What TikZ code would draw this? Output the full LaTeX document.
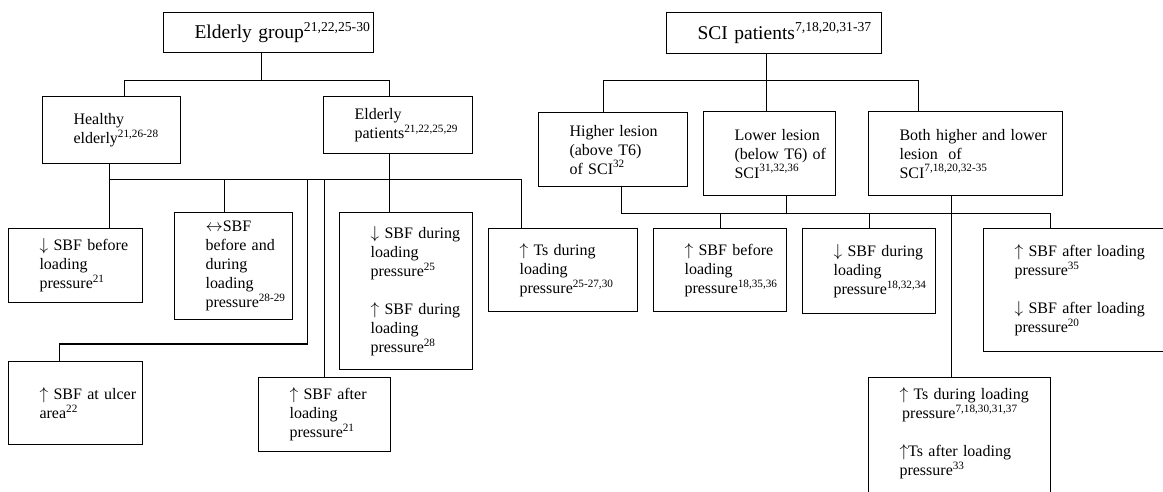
\documentclass[tikz,border=0pt]{standalone}
\usepackage{fontspec}
\setmainfont{Liberation Serif}
\usetikzlibrary{calc}
\tikzset{
  cell/.style 2 args={draw, line width=1.1pt, anchor=north west, minimum width=#1, minimum height=#2,
    text width=#1-62, inner sep=2pt, align=left, font=\fontsize{16}{19}\selectfont},
  headcell/.style 2 args={cell={#1}{#2}, font=\fontsize{19.5}{23}\selectfont},
  link/.style={line width=1.1pt}
}
\newcommand\rf[1]{\textsuperscript{#1}}
\newcommand\up{\(\uparrow\)}
\newcommand\dn{\(\downarrow\)}
\hyphenpenalty=10000
\exhyphenpenalty=10000

\begin{document}
\begin{tikzpicture}[x=1pt,y=-1pt]
		%%%%% START %%%%%
		\useasboundingbox (0,0) rectangle (1163,491);
		\clip (0,0) rectangle (1163,491);
		
		% elderly group
		\node[headcell={210}{40}] (eg) at (163,12) {Elderly~group\rf{21,22,25-30}};
		\node[cell={138}{67}] (he) at (42,96) {Healthy\\elderly\rf{21,26-28}};
		\node[cell={149}{57}] (ep) at (323,96) {Elderly\\patients\rf{21,22,25,29}};
		
		\node[cell={134}{74}] (sbfb) at (8,228) {\dn~SBF~before\\loading\\pressure\rf{21}};
		\node[cell={118}{107}] (sbfbd) at (174,212) {\(\leftrightarrow\)SBF\\before~and\\during\\loading\\pressure\rf{28-29}};
		\node[cell={133}{157}] (sbfd) at (339,212) {\dn~SBF~during\\loading\\pressure\rf{25}\\[19pt]\up~SBF~during\\loading\\pressure\rf{28}};
		\node[cell={149}{83}] (tsd) at (488,228) {\up~Ts~during\\loading\\pressure\rf{25-27,30}};
		\node[cell={134}{83}] (ulc) at (8,361) {\up~SBF~at~ulcer\\area\rf{22}};
		\node[cell={132}{74}] (sbfa) at (258,377) {\up~SBF~after\\loading\\pressure\rf{21}};
		
		\draw[link] ([xshift=-7]eg.south) -- ++(0,27) coordinate (ej);
		\draw[link] ([xshift=13]he.north) |- (ej) -| ([xshift=-8.5]ep.north);
		\draw[link] ([xshift=-2]he.south) -- ([xshift=34]sbfb.north);
		\draw[link] ([xshift=-2]he.south) ++(0,15) coordinate (hj) -| ([xshift=-41.5]tsd.north);
		\draw[link] ([xshift=-9]sbfbd.north) |- (hj);
		\draw[link] (sbfa.north) |- (hj);
		\draw[link] ([xshift=-8.5]ep.south) -- ([xshift=-16.5]sbfd.north);
		\draw[link] ([xshift=-16]ulc.north) -- ++(0,-17) -| ($(hj -| sbfa.north)+(-17,0)$);
		
		% sci patients
		\node[headcell={215}{41}] (sci) at (666,12) {SCI~patients\rf{7,18,20,31-37}};
		\node[cell={149}{74}] (hl) at (538,112) {Higher~lesion\\(above~T6)\\of~SCI\rf{32}};
		\node[cell={132}{84}] (ll) at (703,111) {Lower~lesion\\(below~T6)~of\\SCI\rf{31,32,36}};
		\node[cell={194}{84}] (bh) at (868,111) {Both~higher~and~lower\\lesion~~of\\SCI\rf{7,18,20,32-35}};
		
		\node[cell={133}{83}] (usbfb) at (653,228) {\up~SBF~before\\loading\\pressure\rf{18,35,36}};
		\node[cell={133}{85}] (dsbfd) at (802,228) {\dn~SBF~during\\loading\\pressure\rf{18,32,34}};
		\node[cell={200}{123}] (rbox) at (983,228) {\up~SBF~after~loading\\pressure\rf{35}\\[19pt]\dn~SBF~after~loading\\pressure\rf{20}};
		\node[cell={182}{0}, inner ysep=10pt] (tsb) at (868,377) {\up~Ts~during~loading\\\,pressure\rf{7,18,30,31,37}\\[19pt]\up Ts~after~loading\\pressure\rf{33}\\\rule{0pt}{40pt}};
		
		\draw[link] ([xshift=-7.5]sci.south) -- ++(0,26) coordinate (sj) -- ([xshift=-3]ll.north);
		\draw[link] ([xshift=-9.5]hl.north) |- (sj) -| ([xshift=-47]bh.north);
		\draw[link] ([xshift=8.5]hl.south) -- ++(0,26) coordinate (lj) -| ([xshift=-33]rbox.north);
		\draw[link] ([xshift=17]ll.south) |- (lj);
		\draw[link] (usbfb.north) |- (lj);
		\draw[link] (dsbfd.north) |- (lj);
		\draw[link] ([xshift=-14]bh.south) -- ([xshift=-8]tsb.north);
		
		%%%%% END %%%%%
\end{tikzpicture}
\end{document}
